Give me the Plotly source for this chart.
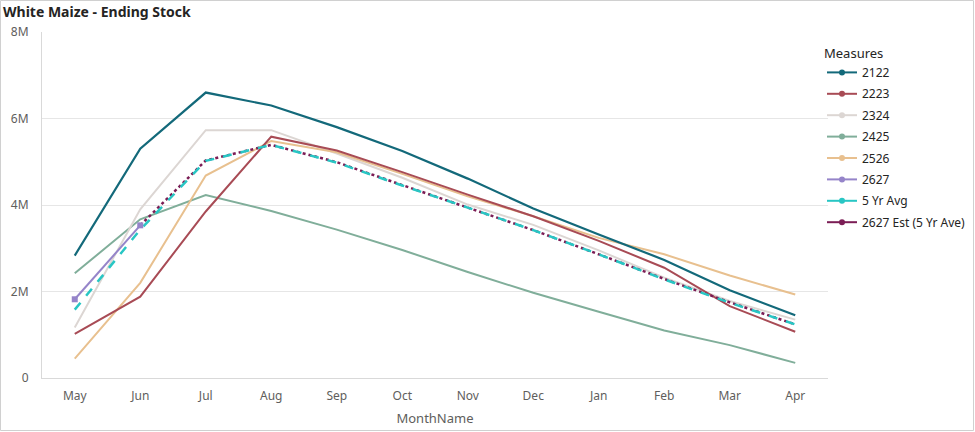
import plotly.graph_objects as go

months = ["May", "Jun", "Jul", "Aug", "Sep", "Oct", "Nov", "Dec", "Jan", "Feb", "Mar", "Apr"]

s2122 = [2.83, 5.30, 6.60, 6.30, 5.80, 5.25, 4.61, 3.92, 3.32, 2.73, 2.03, 1.45]
s2223 = [1.02, 1.88, 3.85, 5.58, 5.26, 4.76, 4.24, 3.74, 3.17, 2.55, 1.66, 1.07]
s2324 = [1.17, 3.90, 5.73, 5.73, 5.19, 4.63, 4.01, 3.54, 2.95, 2.32, 1.78, 1.35]
s2425 = [2.42, 3.67, 4.23, 3.86, 3.43, 2.96, 2.45, 1.97, 1.53, 1.10, 0.76, 0.35]
s2526 = [0.45, 2.20, 4.68, 5.48, 5.22, 4.72, 4.20, 3.74, 3.24, 2.86, 2.37, 1.93]
s2627 = [1.82, 3.53, None, None, None, None, None, None, None, None, None, None]
avg5 = [1.58, 3.43, 5.02, 5.39, 4.98, 4.45, 3.94, 3.42, 2.86, 2.28, 1.74, 1.24]
est2627 = [None, 3.53, 5.03, 5.39, 4.99, 4.46, 3.94, 3.42, 2.86, 2.29, 1.75, 1.24]

names = ["2122", "2223", "2324", "2425", "2526", "2627", "5 Yr Avg", "2627 Est (5 Yr Ave)"]
colors = ["#13697a", "#a84b55", "#dcd6d3", "#80ae9a", "#e8c08f", "#9584c9", "#28c6c4", "#7b1d55"]

def m(vals):
    return [None if v is None else v * 1e6 for v in vals]

fig = go.Figure()

FONT = "Segoe UI, Noto Sans, sans-serif"

order = [
    (s2425, 3, "solid", 2, False),
    (s2324, 2, "solid", 2, False),
    (s2526, 4, "solid", 2, False),
    (s2223, 1, "solid", 2, False),
    (s2122, 0, "solid", 2.2, False),
    (est2627, 7, "dot", 2.5, False),
    (avg5, 6, "dash", 2.5, False),
    (s2627, 5, "solid", 2, True),
]
for vals, idx, dash, w, mk in order:
    fig.add_trace(go.Scatter(
        x=months, y=m(vals), name=names[idx],
        mode="lines+markers" if mk else "lines",
        line=dict(color=colors[idx], width=w, dash=dash),
        marker=dict(size=6, symbol="square", color=colors[idx]),
        showlegend=False, connectgaps=False,
    ))

for i, n in enumerate(names):
    fig.add_trace(go.Scatter(
        x=[None], y=[None], name=n, mode="lines+markers",
        line=dict(color=colors[i], width=2),
        marker=dict(size=6, color=colors[i]),
        legendgroup=n, showlegend=True,
    ))

W, H = 975, 432
L, R, T, B = 42, 147, 32, 54
PW, PH = W - L - R, H - T - B

fig.update_layout(
    width=W, height=H,
    margin=dict(l=L, r=R, t=T, b=B, autoexpand=False),
    paper_bgcolor="white", plot_bgcolor="white",
    font=dict(family=FONT, size=12, color="#605e5c"),
    title=dict(text="<b>White Maize - Ending Stock</b>", x=3 / W, xanchor="left",
               y=1 - 12 / H, yanchor="middle", font=dict(size=14, color="#252423", family=FONT)),
    legend=dict(
        title=dict(text="Measures", font=dict(size=13, color="#252423")),
        x=(822 - L) / PW, xanchor="left", y=1 - (41 - T) / PH, yanchor="top",
        font=dict(size=12, color="#252423"),
        tracegroupgap=2.4, itemwidth=30,
        bgcolor="rgba(0,0,0,0)",
    ),
    xaxis=dict(
        type="category", range=[-0.5, 11.5],
        showgrid=False, showline=True, linecolor="#d9d9d9", linewidth=1,
        ticks="", tickfont=dict(size=12, color="#605e5c"), ticklabelstandoff=7,
        title=dict(text="MonthName", font=dict(size=13, color="#605e5c"), standoff=10),
    ),
    yaxis=dict(
        range=[0, 8e6], tickvals=[0, 2e6, 4e6, 6e6, 8e6],
        ticktext=["0", "2M", "4M", "6M", "8M"],
        showgrid=True, gridcolor="#e6e6e6", gridwidth=1,
        showline=True, linecolor="#d9d9d9", linewidth=1,
        zeroline=False, ticks="", ticklabelstandoff=10,
        tickfont=dict(size=12, color="#605e5c"),
    ),
    hovermode="closest",
)

fig.add_shape(type="rect", xref="paper", yref="paper",
              x0=(0.5 - L) / PW, x1=(W - 1.5 - L) / PW,
              y0=-(B - 1.5) / PH, y1=1 + (T - 0.5) / PH,
              line=dict(color="#d0d0d0", width=1), layer="below")

fig.write_html("out.html", config={"displayModeBar": False},
               post_script="document.body.style.margin='0';")
